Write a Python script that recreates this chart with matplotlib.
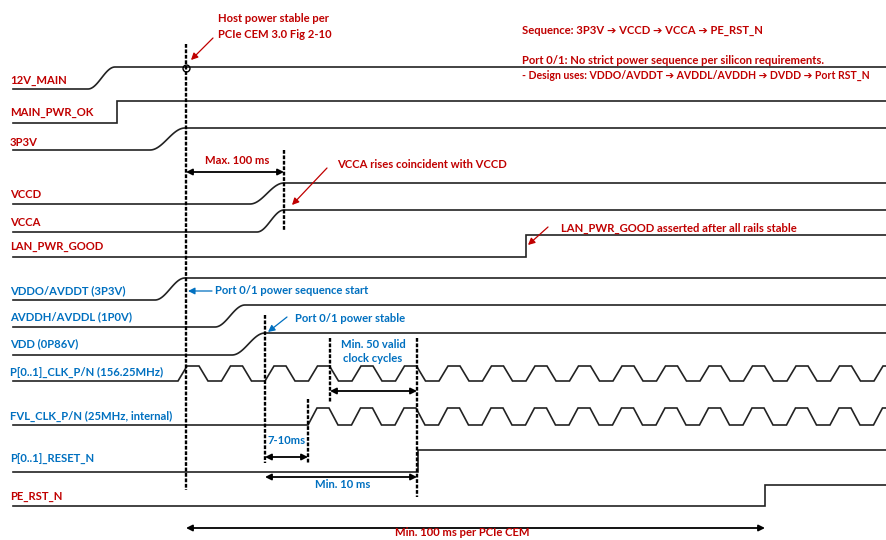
"""Power-up timing diagram: host rails, LAN rails, port clocks and resets."""
import matplotlib
matplotlib.use("Agg")
import matplotlib.pyplot as plt
import numpy as np

RED = "#C00000"
BLUE = "#0070C0"
INK = "#222222"
FONT = ["Lato", "DejaVu Sans"]
FS = 8.1

# signal rows (x = time axis in drawing units, y = row baseline, top to bottom)
SIGNALS = ["12V_MAIN", "MAIN_PWR_OK", "3P3V", "VCCD", "VCCA", "LAN_PWR_GOOD",
           "VDDO/AVDDT (3P3V)", "AVDDH/AVDDL (1P0V)", "VDD (0P86V)",
           "P[0..1]_CLK_P/N (156.25MHz)", "FVL_CLK_P/N (25MHz, internal)",
           "P[0..1]_RESET_N", "PE_RST_N"]
SIG_COLORS = [RED, RED, RED, RED, RED, RED, BLUE, BLUE, BLUE, BLUE, BLUE, BLUE, RED]
ROW_LOW = [89, 123, 150, 204, 232, 257, 300, 327, 355, 381, 425, 472, 506]
ROW_HIGH = [22, 22, 22, 21, 22, 22, 22, 22, 22, 15, 17, 22, 21]
LABEL_OFF = [9, 10, 8, 9, 10, 10, 9, 10, 11, 9, 9, 13, 9]
EDGE_KIND = ["ramp", "step", "ramp", "ramp", "ramp", "step",
             "ramp", "ramp", "ramp", "clock", "clock", "step", "step"]
EDGE_AT = [88, 117, 150, 250, 257, 526, 155, 215, 232, 178, 308, 418, 765]
EDGE_LEN = [27, 0, 35, 34, 27, 0, 30, 30, 33, 0, 0, 0, 0]

X_START, X_END = 13, 886
CLK_PERIOD = 43.5
CLK_SHAPE = [0, 9, 21, 30, 43.5]  # rise start, top start, fall start, low start, next

# dashed timing markers
MARK_X = [186, 284, 265, 308, 330, 417]
MARK_TOP = [44, 150, 315, 399, 338, 338]
MARK_BOT = [490, 231, 463, 463, 402, 497]

# dimension arrows (from, to, y)
DIM_FROM = [186, 330, 265, 265, 186]
DIM_TO = [284, 417, 308, 417, 765]
DIM_Y = [172, 391, 457, 477, 528]

# callout arrows (tail, head, colour)
CALL_TAIL = [(213, 38), (327, 168), (548, 227), (212, 291), (287, 317)]
CALL_HEAD = [(191, 60), (292, 205), (528, 245), (188, 291), (268, 332)]
CALL_COLOR = [RED, RED, RED, BLUE, BLUE]


def waveform(kind, low, high, at, length):
    if kind == "clock":
        xs, ys = [X_START, at], [low, low]
        t = at
        while t < X_END:
            xs += [t + CLK_SHAPE[1], t + CLK_SHAPE[2], t + CLK_SHAPE[3], t + CLK_SHAPE[4]]
            ys += [low - high, low - high, low, low]
            t += CLK_PERIOD
        return np.array(xs), np.array(ys)
    if kind == "step":
        return np.array([X_START, at, at, X_END]), np.array([low, low, low - high, low - high])
    s = np.linspace(0, 1, 40)
    rx = at + s * length
    ry = low - high * (1 - np.cos(np.pi * s)) / 2
    return (np.concatenate([[X_START], rx, [X_END]]),
            np.concatenate([[low], ry, [low - high]]))


fig = plt.figure(figsize=(8.86, 5.40), dpi=100)
ax = fig.add_axes([0, 0, 1, 1])
ax.set_xlim(0, 886); ax.set_ylim(540, 0); ax.axis("off")

for name, col, low, h, off, kind, at, ln in zip(SIGNALS, SIG_COLORS, ROW_LOW, ROW_HIGH,
                                               LABEL_OFF, EDGE_KIND, EDGE_AT, EDGE_LEN):
    xs, ys = waveform(kind, low, h, at, ln)
    ax.plot(xs, ys, color=INK, lw=1.2, solid_joinstyle="miter", clip_on=False)
    ax.text(10, low - off, name, color=col, fontsize=FS, fontweight="bold",
            family=FONT, va="center", ha="left")

for x, t, b in zip(MARK_X, MARK_TOP, MARK_BOT):
    ax.plot([x, x], [t, b], color="black", lw=1.7, dashes=(1.6, 0.7))

for a, b, y in zip(DIM_FROM, DIM_TO, DIM_Y):
    ax.annotate("", xy=(b, y), xytext=(a, y),
                arrowprops=dict(arrowstyle="<|-|>", color="black", lw=1.3,
                                mutation_scale=9, shrinkA=0, shrinkB=0))

for tail, head, col in zip(CALL_TAIL, CALL_HEAD, CALL_COLOR):
    ax.annotate("", xy=head, xytext=tail,
                arrowprops=dict(arrowstyle="-|>", color=col, lw=0.9,
                                mutation_scale=10, shrinkA=0, shrinkB=0))

ax.plot([186], [68], "o", ms=5, mfc="none", mec="black", mew=1.0)

txt = dict(fontsize=FS, fontweight="bold", family=FONT, va="center")
ax.text(218, 18, "Host power stable per", color=RED, ha="left", **txt)
ax.text(218, 34, "PCIe CEM 3.0 Fig 2-10", color=RED, ha="left", **txt)
ax.text(237, 161, "Max. 100 ms", color=RED, ha="center", **txt)
ax.text(337, 165, "VCCA rises coincident with VCCD", color=RED, ha="left", **txt)
ax.text(561, 228, "LAN_PWR_GOOD asserted after all rails stable", color=RED, ha="left", **txt)
ax.text(215, 291, "Port 0/1 power sequence start", color=BLUE, ha="left", **txt)
ax.text(295, 318, "Port 0/1 power stable", color=BLUE, ha="left", **txt)
ax.text(373, 344, "Min. 50 valid", color=BLUE, ha="center", **txt)
ax.text(373, 359, "clock cycles", color=BLUE, ha="center", **txt)
ax.text(268, 441, "7-10ms", color=BLUE, ha="left", **txt)
ax.text(343, 484, "Min. 10 ms", color=BLUE, ha="center", **txt)
ax.text(462, 533, "Min. 100 ms per PCIe CEM", color=RED, ha="center", **txt)

ax.text(522, 31, "Sequence: 3P3V \u2794 VCCD \u2794 VCCA \u2794 PE_RST_N", color=RED, ha="left", **txt)
ax.text(522, 60, "Port 0/1: No strict power sequence per silicon requirements.", color=RED, ha="left", **txt)
txt["fontsize"] = 7.6
ax.text(522, 75, "- Design uses: VDDO/AVDDT \u2794 AVDDL/AVDDH \u2794 DVDD \u2794 Port RST_N",
        color=RED, ha="left", **txt)

fig.savefig("out.png", dpi=100)
